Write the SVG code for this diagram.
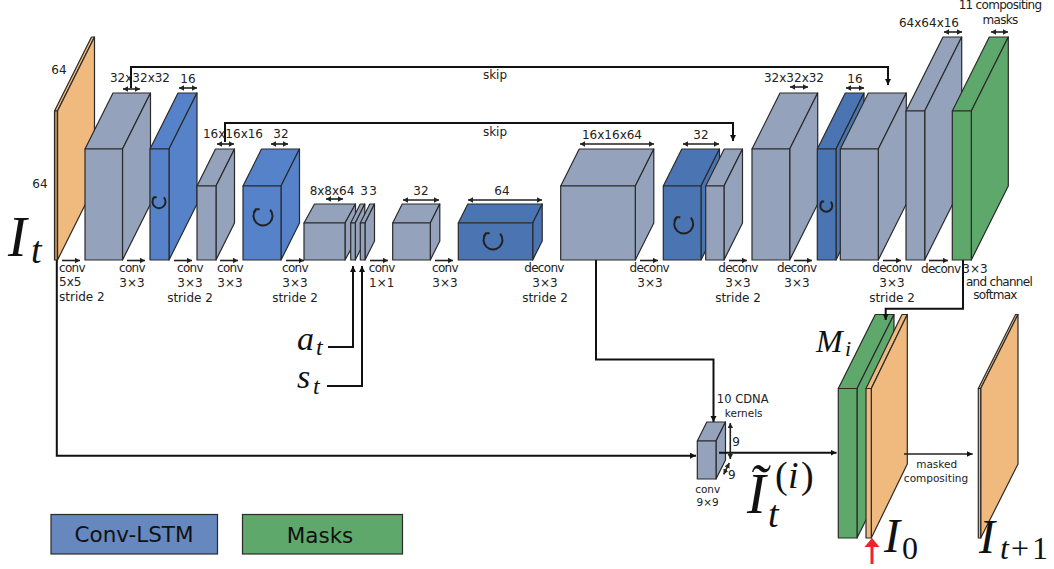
<svg xmlns="http://www.w3.org/2000/svg" width="1054" height="569" viewBox="0 0 1054 569">
<style>
text{font-family:"DejaVu Sans",sans-serif;font-size:12px;fill:#222;text-anchor:middle}
.s{text-anchor:start}
.c{letter-spacing:-.7px}
.f{font-size:10.5px}
.l{font-size:21.500px;fill:#111}
text.m{font-family:"Liberation Serif",serif;font-style:italic;fill:#111;text-anchor:start}
text.r{font-style:normal}
text.z56{font-size:56px}
text.z48{font-size:48px}
text.z38{font-size:38px}
text.z34{font-size:34px}
text.z32{font-size:32px}
text.z24{font-size:24px}
text.z22{font-size:22px}
.n path,.n rect{stroke:#2a2a2a;stroke-width:1.2;stroke-linejoin:round}
.g path,.g rect{fill:#94a3bb}
.b path,.b rect{fill:#5582c8}
.d path,.d rect{fill:#4b74b3}
.e path,.e rect{fill:#5ea86c}
.o path,.o rect{fill:#f0b97d}
.k{fill:none;stroke:#111;stroke-width:2}
.a{fill:none;stroke:#222;stroke-width:1.6}
.lp{fill:none;stroke:#222;stroke-width:2;vector-effect:non-scaling-stroke}
</style>
<defs>
<marker id="h" markerWidth="8" markerHeight="8" refX="6" refY="3" orient="auto-start-reverse" markerUnits="userSpaceOnUse"><path d="M0 0 6 3 0 6z" fill="#111"/></marker>
<marker id="hs" markerWidth="7" markerHeight="7" refX="5" refY="2.750" orient="auto-start-reverse" markerUnits="userSpaceOnUse"><path d="M0 0 5 2.750 0 5.500z" fill="#222"/></marker>
<g id="loop"><path class="lp" d="M-.75-.66A1 1 0 1 0 .75-.66M-1-.35-.75-.7-.35-.7"/></g>
</defs>

<g id="input-frame" class="n o"><path d="M54.5 111 91.5 37H94.5L57.5 111z"/><path d="M57.5 111 94.5 37V186L57.5 260z"/><rect x="54.5" y="111" width="3" height="149" style="fill:#b88f5c"/></g>
<g id="n1" class="n g"><path d="M85 149 113 93H150.5L122.5 149z"/><path d="M122.5 149 150.5 93V204L122.5 260z"/><rect x="85" y="149" width="37.5" height="111"/></g>
<g id="n2" class="n b"><path d="M150 149 178 93H197L169 149z"/><path d="M169 149 197 93V204L169 260z"/><rect x="150" y="149" width="19" height="111"/><use href="#loop" transform="translate(159 201.700) scale(6.500)"/></g>
<g id="n3" class="n g"><path d="M197 186 215.500 149H234.500L216 186z"/><path d="M216 186 234.500 149V223L216 260z"/><rect x="197" y="186" width="19" height="74"/></g>
<g id="n4" class="n b"><path d="M243 186 261.500 149H299.500L281 186z"/><path d="M281 186 299.500 149V223L281 260z"/><rect x="243" y="186" width="38" height="74"/><use href="#loop" transform="translate(263 216) scale(9.500)"/></g>
<g id="n5" class="n g"><path d="M304 223 314.500 204H355.500L345 223z"/><path d="M345 223 355.500 204V241L345 260z"/><rect x="304" y="223" width="41" height="37"/></g>
<g id="n6" class="n g"><path d="M350.700 223 360.200 204H364.800L355.300 223z"/><path d="M355.300 223 364.800 204V241L355.300 260z"/><rect x="350.700" y="223" width="4.600" height="37"/></g>
<g id="n7" class="n g"><path d="M360.300 223 369.800 204H374.500L365 223z"/><path d="M365 223 374.500 204V241L365 260z"/><rect x="360.300" y="223" width="4.700" height="37"/></g>
<g id="n8" class="n g"><path d="M392.700 223 402.200 204H439.800L430.300 223z"/><path d="M430.300 223 439.800 204V241L430.300 260z"/><rect x="392.700" y="223" width="37.600" height="37"/></g>
<g id="n9" class="n d"><path d="M458.300 223 467.800 204H542.200L532.700 223z"/><path d="M532.700 223 542.200 204V241L532.700 260z"/><rect x="458.300" y="223" width="74.400" height="37"/><use href="#loop" transform="translate(493 240) scale(9.500)"/></g>
<g id="n10" class="n g"><path d="M560.700 186 579.200 149H653.800L635.300 186z"/><path d="M635.300 186 653.800 149V223L635.300 260z"/><rect x="560.700" y="186" width="74.600" height="74"/></g>
<g id="n11" class="n d"><path d="M663.300 186 681.800 149H719.500L701 186z"/><path d="M701 186 719.500 149V223L701 260z"/><rect x="663.300" y="186" width="37.700" height="74"/><use href="#loop" transform="translate(683.700 224) scale(9.500)"/></g>
<g id="n12" class="n g"><path d="M705.700 186 724.200 149H742.500L724 186z"/><path d="M724 186 742.500 149V223L724 260z"/><rect x="705.700" y="186" width="18.300" height="74"/></g>
<g id="n13" class="n g"><path d="M752 149 780 93H817.700L789.700 149z"/><path d="M789.700 149 817.700 93V204L789.700 260z"/><rect x="752" y="149" width="37.700" height="111"/></g>
<g id="n14" class="n d"><path d="M817.300 149 845.300 93H864L836 149z"/><path d="M836 149 864 93V204L836 260z"/><rect x="817.300" y="149" width="18.700" height="111"/><use href="#loop" transform="translate(826.300 205.700) scale(6)"/></g>
<g id="n15" class="n g"><path d="M840.300 149 868.300 93H906.300L878.300 149z"/><path d="M878.300 149 906.300 93V204L878.300 260z"/><rect x="840.300" y="149" width="38" height="111"/></g>
<g id="n16" class="n g"><path d="M906 111 943 37H961.700L924.700 111z"/><path d="M924.700 111 961.700 37V186L924.700 260z"/><rect x="906" y="111" width="18.700" height="149"/></g>
<g id="n17" class="n e"><path d="M952.300 111 989.300 37H1008.300L971.300 111z"/><path d="M971.300 111 1008.300 37V186L971.300 260z"/><rect x="952.300" y="111" width="19" height="149"/></g>
<g id="cdna" class="n g"><path d="M697.300 441 706.800 422H725.500L716 441z"/><path d="M716 441 725.500 422V460L716 479z"/><rect x="697.300" y="441" width="18.700" height="38"/></g>
<g id="masks" class="n e"><path d="M838.300 388.500 875.300 314.500H894L857 388.500z"/><path d="M857 388.500 894 314.500V464L857 538z"/><rect x="838.300" y="388.500" width="18.700" height="149.500"/></g>
<g id="i0" class="n o"><path d="M866 388.500 902 314.500H907.300L871.300 388.500z"/><path d="M871.300 388.500 907.300 314.500V464L871.300 538z"/><rect x="866" y="388.500" width="5.300" height="149.500"/></g>
<g id="it1" class="n o"><path d="M978.300 388.500 1015.600 314.500H1018L980.700 388.500z"/><path d="M980.700 388.500 1018 314.500V464L980.700 538z"/><rect x="978.300" y="388.500" width="2.400" height="149.500"/></g>

<g id="connectors">
<path class="k" d="M131 88V67H888V85" marker-end="url(#h)"/>
<path class="k" d="M225 142V123H733V141" marker-end="url(#h)"/>
<path class="k" d="M56.800 260V455.700H696" marker-end="url(#h)"/>
<path class="k" d="M328 347H353V266" marker-end="url(#h)"/>
<path class="k" d="M327 386H362V266" marker-end="url(#h)"/>
<path class="k" d="M596 260V359.500H713.500V422" marker-end="url(#h)"/>
<path class="k" d="M963 260V308.700H885.700V320" marker-end="url(#h)"/>
<path class="k" d="M719 452.700H836.500" marker-end="url(#h)"/>
<path class="a" d="M904 454H972.700" marker-end="url(#h)"/>
<path d="M872 564V545" stroke="#ee2528" stroke-width="3" fill="none"/><path d="M864.500 547 872 538 879.500 547z" fill="#ee2528"/>
<g class="a">
<path d="M62 260.500H80" marker-end="url(#hs)"/><path d="M127 260.500H145" marker-end="url(#hs)"/><path d="M174 260.500H192" marker-end="url(#hs)"/><path d="M220 260.500H238" marker-end="url(#hs)"/><path d="M286 260.500H304" marker-end="url(#hs)"/><path d="M370 260.500H388" marker-end="url(#hs)"/><path d="M435 260.500H453" marker-end="url(#hs)"/><path d="M640 260.500H658" marker-end="url(#hs)"/><path d="M729 260.500H747" marker-end="url(#hs)"/><path d="M794 260.500H812" marker-end="url(#hs)"/><path d="M883 260.500H901" marker-end="url(#hs)"/><path d="M929 260.500H948" marker-end="url(#hs)"/>
<path d="M123 89H140" marker-start="url(#hs)" marker-end="url(#hs)"/><path d="M179 88H197" marker-start="url(#hs)" marker-end="url(#hs)"/><path d="M217 144H234" marker-start="url(#hs)" marker-end="url(#hs)"/><path d="M271 144H288" marker-start="url(#hs)" marker-end="url(#hs)"/><path d="M326 199H343" marker-start="url(#hs)" marker-end="url(#hs)"/><path d="M403 200H439" marker-start="url(#hs)" marker-end="url(#hs)"/><path d="M468 200H542" marker-start="url(#hs)" marker-end="url(#hs)"/><path d="M580 144H654" marker-start="url(#hs)" marker-end="url(#hs)"/><path d="M683 144H719" marker-start="url(#hs)" marker-end="url(#hs)"/><path d="M790 87H808" marker-start="url(#hs)" marker-end="url(#hs)"/><path d="M846 88H864" marker-start="url(#hs)" marker-end="url(#hs)"/><path d="M944 32H962" marker-start="url(#hs)" marker-end="url(#hs)"/><path d="M991 32H1008" marker-start="url(#hs)" marker-end="url(#hs)"/>
<path d="M730.300 423V459" marker-start="url(#hs)" marker-end="url(#hs)"/><path d="M729.300 463 723.700 474.300" marker-start="url(#hs)" marker-end="url(#hs)"/>
</g>
</g>

<g id="labels">
<text x="59" y="74">64</text><text x="40" y="188">64</text>
<text x="140" y="82">32x32x32</text><text x="188" y="83">16</text><text x="233" y="138">16x16x16</text><text x="281" y="138">32</text><text x="332" y="195">8x8x64</text><text x="364" y="195">3</text><text x="373" y="195">3</text><text x="421" y="195">32</text><text x="502" y="195">64</text><text x="612" y="139">16x16x64</text><text x="701" y="139">32</text><text x="794" y="82">32x32x32</text><text x="855" y="83">16</text><text x="929" y="27">64x64x16</text>
<text x="1000" y="9" class="c">11 compositing</text><text x="1000" y="24" class="c">masks</text>
<text x="495" y="79">skip</text><text x="495" y="136">skip</text>
<text x="59" y="272" class="s c">conv</text><text x="59" y="286" class="s">5x5</text><text x="59" y="301" class="s">stride 2</text>
<text x="132" y="272" class="c">conv</text><text x="132" y="287">3×3</text>
<text x="190" y="272" class="c">conv</text><text x="190" y="287">3×3</text><text x="190" y="302">stride 2</text>
<text x="230" y="272" class="c">conv</text><text x="230" y="287">3×3</text>
<text x="295" y="272" class="c">conv</text><text x="295" y="287">3×3</text><text x="295" y="302">stride 2</text>
<text x="381.700" y="272" class="c">conv</text><text x="381.700" y="287">1×1</text>
<text x="445" y="272" class="c">conv</text><text x="445" y="287">3×3</text>
<text x="544" y="272" class="c">deconv</text><text x="545" y="287">3×3</text><text x="545" y="302">stride 2</text>
<text x="649.300" y="272" class="c">deconv</text><text x="650" y="287">3×3</text>
<text x="738" y="272" class="c">deconv</text><text x="738" y="287">3×3</text><text x="738" y="302">stride 2</text>
<text x="796.700" y="272" class="c">deconv</text><text x="797" y="287">3×3</text>
<text x="892" y="272" class="c">deconv</text><text x="892" y="287">3×3</text><text x="892" y="302">stride 2</text>
<text x="940.700" y="273" class="c">deconv</text><text x="975" y="273">3×3</text>
<text x="999" y="286" class="c">and channel</text><text x="995" y="299" class="c">softmax</text>
<text x="742.700" y="403" style="font-size:11.500px">10 CDNA</text><text x="743.700" y="417" class="f">kernels</text>
<text x="736" y="446">9</text><text x="731.700" y="479">9</text>
<text x="707.700" y="493" class="f">conv</text><text x="707.700" y="505.500" class="f">9×9</text>
<text x="936.700" y="468" class="f">masked</text><text x="936" y="482" class="f">compositing</text>
<text class="m z56" x="8" y="256">I</text><text class="m z38" x="31" y="263">t</text>
<text class="m z34" x="297" y="350">a</text><text class="m z24" x="316" y="355">t</text>
<text class="m z34" x="297" y="388">s</text><text class="m z24" x="313" y="394">t</text>
<text class="m z32" x="816" y="352">M</text><text class="m z22" x="845" y="356">i</text>
<text class="m z56" x="747" y="513">Ĩ</text><text class="m z38" x="768" y="527">t</text><text class="m r z38" x="775" y="488">(</text><text class="m z38" x="788" y="488">i</text><text class="m r z38" x="801" y="488">)</text>
<text class="m z48" x="884" y="552">I</text><text class="m r z32" x="902" y="559">0</text>
<text class="m z48" x="979" y="553">I</text><text class="m z32" x="1000" y="559">t</text><text class="m r z32" x="1011" y="559">+</text><text class="m r z32" x="1032" y="559">1</text>
</g>

<g id="legend-lstm"><rect x="51" y="514.500" width="166.500" height="39.500" fill="#6688bf" stroke="#2a2a2a" stroke-width="1.200"/><text class="l" x="134" y="541.500">Conv-LSTM</text></g>
<g id="legend-masks"><rect x="242.500" y="514.500" width="160" height="39.500" fill="#5ea86c" stroke="#2a2a2a" stroke-width="1.200"/><text class="l" x="320" y="543">Masks</text></g>
</svg>
